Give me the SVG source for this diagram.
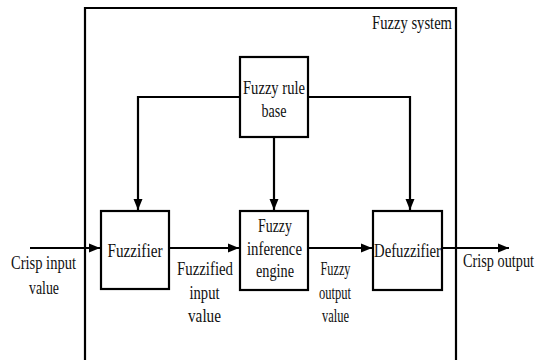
<svg xmlns="http://www.w3.org/2000/svg" width="537" height="360" viewBox="0 0 537 360">
<style>
.box{fill:#fff;stroke:#000;stroke-width:2.2}
.ln{fill:none;stroke:#000;stroke-width:2.2}
text{font-family:'Liberation Serif','Times New Roman','DejaVu Serif',serif;font-size:19px;fill:#111}
.m{text-anchor:middle}
</style>
<defs>
<marker id="ah" markerUnits="userSpaceOnUse" markerWidth="12" markerHeight="10" refX="11" refY="5" orient="auto">
<path d="M0,0.5 L11,5 L0,9.5 Z" fill="#000"/>
</marker>
</defs>
<g id="fuzzy-system">
<path class="ln" d="M85,370 V8 H456 V370"/>
<text x="452" y="29" text-anchor="end" textLength="80" lengthAdjust="spacingAndGlyphs">Fuzzy system</text>
</g>
<g id="connectors">
<path class="ln" d="M240,97 H138 V210" marker-end="url(#ah)"/>
<path class="ln" d="M308,97 H410 V210" marker-end="url(#ah)"/>
<path class="ln" d="M274,137 V210" marker-end="url(#ah)"/>
<path class="ln" d="M30,248 H100" marker-end="url(#ah)"/>
<path class="ln" d="M169,248 H239" marker-end="url(#ah)"/>
<path class="ln" d="M308,248 H372" marker-end="url(#ah)"/>
<path class="ln" d="M442,248 H509" marker-end="url(#ah)"/>
</g>
<g id="rule-base">
<rect class="box" x="240" y="57" width="68" height="80"/>
<text class="m" x="274" y="94" textLength="62" lengthAdjust="spacingAndGlyphs">Fuzzy rule</text>
<text class="m" x="274" y="117" textLength="25" lengthAdjust="spacingAndGlyphs">base</text>
</g>
<g id="fuzzifier">
<rect class="box" x="101" y="211" width="68" height="78"/>
<text class="m" x="135" y="257" textLength="55" lengthAdjust="spacingAndGlyphs">Fuzzifier</text>
</g>
<g id="inference-engine">
<rect class="box" x="240" y="211" width="68" height="79"/>
<text class="m" x="275" y="232" textLength="34" lengthAdjust="spacingAndGlyphs">Fuzzy</text>
<text class="m" x="274.5" y="255" textLength="55" lengthAdjust="spacingAndGlyphs">inference</text>
<text class="m" x="275" y="277" textLength="38" lengthAdjust="spacingAndGlyphs">engine</text>
</g>
<g id="defuzzifier">
<rect class="box" x="373" y="211" width="69" height="79"/>
<text class="m" x="407.5" y="257" textLength="67" lengthAdjust="spacingAndGlyphs">Defuzzifier</text>
</g>
<g id="labels">
<text class="m" x="43.5" y="269" textLength="65" lengthAdjust="spacingAndGlyphs">Crisp input</text>
<text class="m" x="44" y="294" textLength="30" lengthAdjust="spacingAndGlyphs">value</text>
<text class="m" x="205" y="275" textLength="56" lengthAdjust="spacingAndGlyphs">Fuzzified</text>
<text class="m" x="204.5" y="299" textLength="30" lengthAdjust="spacingAndGlyphs">input</text>
<text class="m" x="204.5" y="322" textLength="33" lengthAdjust="spacingAndGlyphs">value</text>
<text class="m" x="335.5" y="275" textLength="30" lengthAdjust="spacingAndGlyphs">Fuzzy</text>
<text class="m" x="335" y="299" textLength="32" lengthAdjust="spacingAndGlyphs">output</text>
<text class="m" x="335.5" y="322" textLength="27" lengthAdjust="spacingAndGlyphs">value</text>
<text x="463" y="267" textLength="71" lengthAdjust="spacingAndGlyphs">Crisp output</text>
</g>
</svg>
